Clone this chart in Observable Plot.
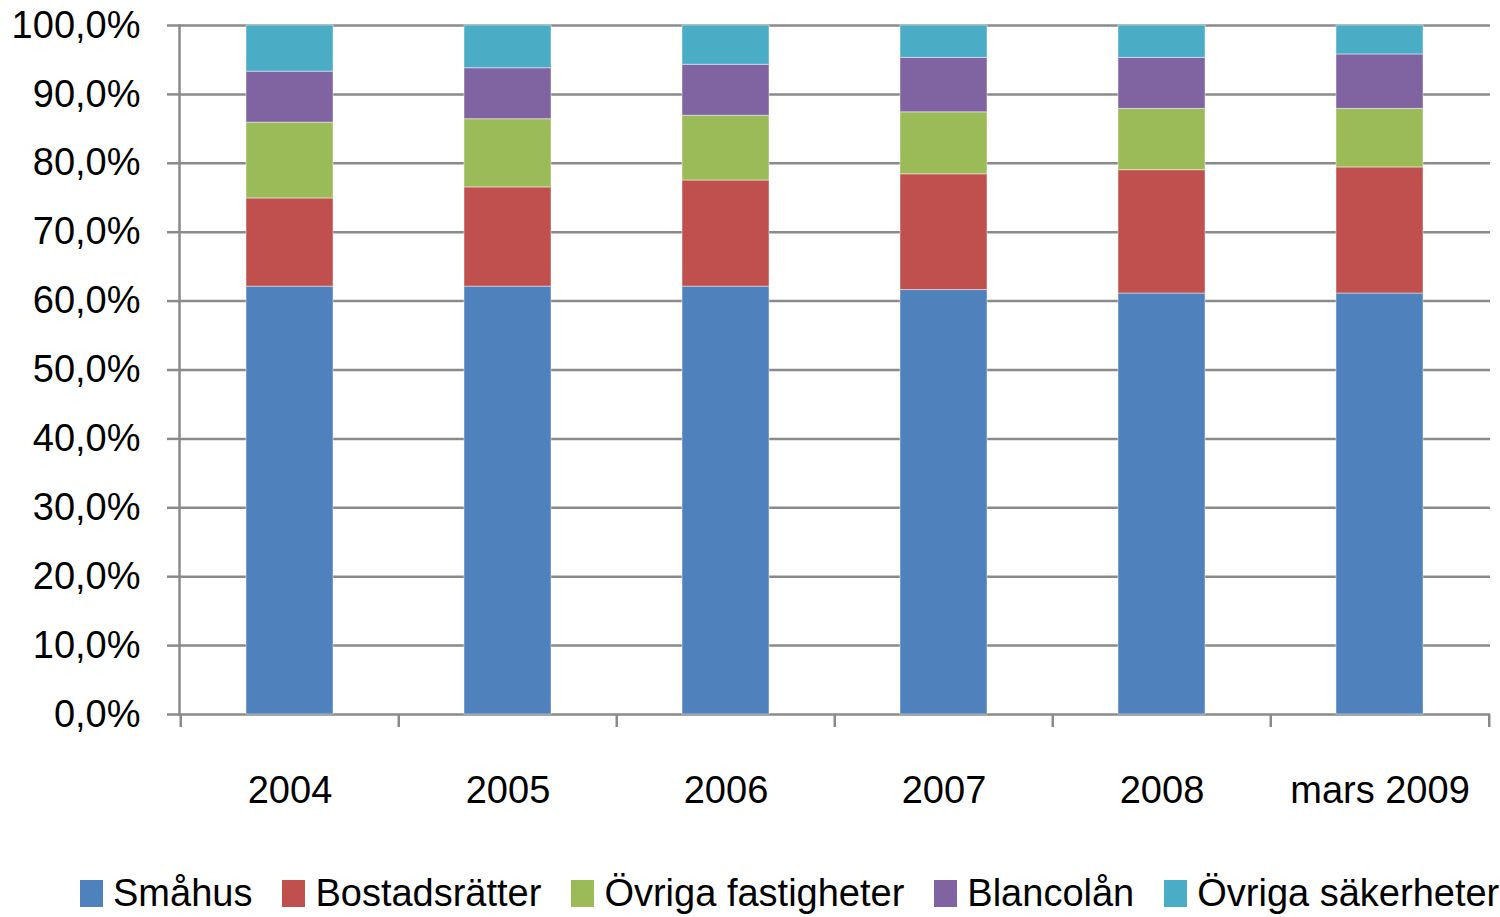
<!DOCTYPE html>
<html><head><meta charset="utf-8">
<script src="https://cdn.jsdelivr.net/npm/d3@7"></script>
<script src="https://cdn.jsdelivr.net/npm/@observablehq/plot@0.6"></script>
<style>
body{margin:0;background:#fff;font-family:"Liberation Sans",Arial,sans-serif;}
#chart svg{display:block}
.lg-swatches{font-family:"Liberation Sans",Arial,sans-serif !important;font-size:38px !important;color:#000;margin:22px 0 0 0 !important;}
.lg-swatches-wrap{flex-wrap:nowrap !important;padding-left:80px;white-space:nowrap;}
.lg-swatch{margin-right:30px !important;}
.lg-swatch > svg{margin-right:10px !important;}
</style></head><body><div id="chart"></div><script>
const categories = ["2004", "2005", "2006", "2007", "2008", "mars 2009"];
const series = ["Småhus", "Bostadsrätter", "Övriga fastigheter", "Blancolån", "Övriga säkerheter"];
const colors = ["#4F81BD", "#C0504D", "#9BBB59", "#8064A2", "#4BACC6"];
const smahus            = [62.1, 62.1, 62.1, 61.6, 61.1, 61.1];
const bostadsratter     = [12.8, 14.4, 15.4, 16.8, 17.9, 18.3];
const ovrigaFastigheter = [11.0,  9.9,  9.4,  9.0,  8.9,  8.5];
const blancolan         = [ 7.4,  7.4,  7.4,  7.9,  7.4,  7.9];
const ovrigaSakerheter  = [ 6.7,  6.2,  5.7,  4.7,  4.7,  4.2];
const yTicks = [0, 10, 20, 30, 40, 50, 60, 70, 80, 90, 100];

const seriesValues = [smahus, bostadsratter, ovrigaFastigheter, blancolan, ovrigaSakerheter];
const data = [];
categories.forEach((c, i) => series.forEach((s, j) => data.push({cat: c, series: s, value: seriesValues[j][i]})));

const W = 1500, H = 850, ML = 179, MR = 10, MT = 25, MB = 136;
const step = (W - ML - MR) / categories.length;
const grey = "#8a8a8a";
const fmt = d => d.toFixed(1).replace(".", ",") + "%";

const plot = Plot.plot({
  width: W, height: H,
  marginLeft: ML, marginRight: MR, marginTop: MT, marginBottom: MB,
  style: {fontFamily: '"Liberation Sans", Arial, sans-serif', background: "white", overflow: "visible", color: "#000"},
  x: {domain: categories, paddingInner: 0.6, paddingOuter: 0.3},
  y: {domain: [0, 100]},
  color: {domain: series, range: colors},
  marks: [
    Plot.gridY(yTicks, {stroke: grey, strokeOpacity: 1, strokeWidth: 2.5}),
    Plot.frame({anchor: "left", stroke: grey, strokeWidth: 2.5}),
    Plot.axisY(yTicks, {tickSize: 12, tickPadding: 27, tickFormat: fmt, fontSize: 38, stroke: grey, strokeWidth: 2.5, fill: "#000", label: null}),
    Plot.axisX({tickSize: 0, tickPadding: 62, fontSize: 38, fill: "#000", label: null}),
    Plot.ruleX(categories, {x: d => d, y1: 0, y2: 0, insetBottom: -13, dx: -step / 2, stroke: grey, strokeWidth: 2.5}),
    Plot.ruleX(categories.slice(-1), {x: d => d, y1: 0, y2: 0, insetBottom: -13, dx: step / 2, stroke: grey, strokeWidth: 2.5}),
    Plot.barY(data, {x: "cat", y: "value", fill: "series", stroke: "white", strokeOpacity: 0.45, strokeWidth: 1})
  ]
});
document.getElementById("chart").appendChild(plot);

const legend = Plot.legend({
  color: {domain: series, range: colors},
  legend: "swatches",
  swatchWidth: 23, swatchHeight: 27,
  className: "lg"
});
document.getElementById("chart").appendChild(legend);
</script></body></html>
